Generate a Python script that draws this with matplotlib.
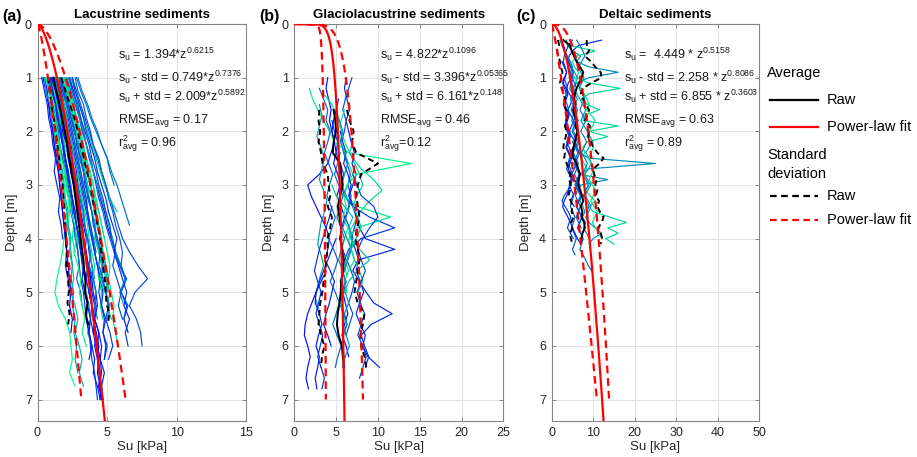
import numpy as np
import matplotlib
matplotlib.use('Agg')
import matplotlib.pyplot as plt
from matplotlib.lines import Line2D

plt.rcParams['font.family'] = ['Liberation Sans', 'DejaVu Sans']
plt.rcParams['mathtext.fontset'] = 'custom'
plt.rcParams['mathtext.rm'] = 'Liberation Sans'
plt.rcParams['mathtext.it'] = 'Liberation Sans'
plt.rcParams['mathtext.bf'] = 'Liberation Sans:bold'

# ---------------- data ----------------
panel_titles = ['Lacustrine sediments', 'Glaciolacustrine sediments', 'Deltaic sediments']
panel_labels = ['(a)', '(b)', '(c)']
x_limits = [15, 25, 50]
x_ticks = [[0, 5, 10, 15], [0, 5, 10, 15, 20, 25], [0, 10, 20, 30, 40, 50]]
depth_ticks = [0, 1, 2, 3, 4, 5, 6, 7]
depth_max = 7.4
std_fit_depth = 7.0

fit_coef = [1.394, 4.822, 4.449]
fit_exp = [0.6215, 0.1096, 0.5158]
lo_coef = [0.749, 3.396, 2.258]
lo_exp = [0.7376, 0.05365, 0.8086]
hi_coef = [2.009, 6.161, 6.855]
hi_exp = [0.5892, 0.148, 0.3603]

eq_texts = [
    [r'$s_u$ = 1.394*z$^{0.6215}$', r'$s_u$ - std = 0.749*z$^{0.7376}$',
     r'$s_u$ + std = 2.009*z$^{0.5892}$', r'RMSE$_{avg}$ = 0.17', r'r$^2_{avg}$ = 0.96'],
    [r'$s_u$ = 4.822*z$^{0.1096}$', r'$s_u$ - std = 3.396*z$^{0.05365}$',
     r'$s_u$ + std = 6.161*z$^{0.148}$', r'RMSE$_{avg}$ = 0.46', r'r$^2_{avg}$=0.12'],
    [r'$s_u$ =  4.449 * z$^{0.5158}$', r'$s_u$ - std = 2.258 * z$^{0.8086}$',
     r'$s_u$ + std = 6.855 * z$^{0.3603}$', r'RMSE$_{avg}$ = 0.63', r'r$^2_{avg}$ = 0.89'],
]

# Panel (a): individual profiles, start depth 1.0 m, step 0.25 m
a_step = 0.25
a_traces = [
    [0.4,0.6,0.8,0.9,1.1,1.2,1.3,1.5,1.6,1.7,1.8,1.9,2.0,2.1,2.0,2.2,2.3],
    [0.7,0.9,1.0,1.2,1.3,1.5,1.6,1.8,1.9,2.0,2.2,2.1,2.3,2.4,2.5,2.4,2.6,2.5,2.7,2.6,2.8,2.7,2.9],
    [1.0,1.1,1.3,1.4,1.6,1.8,1.9,2.1,2.2,2.4,2.5,2.6,2.8,2.9,3.0,3.1,3.3,3.4,3.5,3.7,3.8,3.9,4.1,4.2,4.3],
    [1.3,1.5,1.7,1.9,2.0,2.2,2.4,2.5,2.7,2.9,3.0,3.2,3.3,3.5,3.6,3.8,3.7,3.9,4.0,4.2,4.1,4.3,4.4,4.6,4.5],
    [1.5,1.8,2.0,2.3,2.5,2.7,2.9,3.1,3.3,3.5,3.6,3.8,4.0,4.1,4.3,4.4,4.6,4.5,4.7],
    [2.0,2.3,2.6,2.8,3.1,3.3,3.5,3.8,4.0,4.2,4.4,4.6,4.8,5.0,5.2,5.1,5.3,5.5,5.4,5.6,5.8],
    [2.5,2.8,3.1,3.4,3.7,4.0,4.3,4.6,4.9,5.2,5.5,5.8,6.1,6.6,7.2,7.9,7.0,6.6,7.1,7.4,7.5],
    [0.9,1.1,1.2,1.4,1.5,1.6,1.8,1.9,2.0,2.2,2.3,2.2,2.4],
    [1.2,1.4,1.6,1.8,2.0,2.1,2.3,2.5,2.6,2.8,3.0,3.1,3.3,3.4,3.6,3.5,3.7,3.9,3.8,4.0],
    [1.8,2.0,2.3,2.5,2.7,2.9,3.1,3.3,3.5,3.7,3.9,4.1,4.3,4.6,4.8,5.0,4.9,5.2,5.0],
    [2.3,2.6,2.8,3.1,3.3,3.5,3.8,4.0,4.3,4.5,4.8,5.0,5.3,5.6,5.9,6.3,6.0,6.4,6.2,6.5],
    [1.1,1.3,1.4,1.6,1.7,1.9,2.0,2.2,2.3,2.5,2.6,2.8,2.9,3.1,3.2,3.4],
    [0.6,0.8,1.0,1.2,1.4,1.6,1.8,2.0,2.1,2.3,2.4,2.6,2.5,2.7],
    [1.4,1.7,1.9,2.1,2.3,2.5,2.7,2.9,3.1,3.3,3.5,3.7,3.9,4.1,4.3,4.5,4.7,4.6,4.9,4.7,5.0,4.8],
    [1.7,2.0,2.2,2.5,2.7,3.0,3.2,3.4,3.6,3.9,4.1,4.3,4.5,4.7,4.9],
    [2.1,2.4,2.7,3.0,3.2,3.5,3.7,4.0,4.2,4.4,4.7,4.9,5.2,5.5,5.9,6.4,6.0,6.5,6.2],
    [0.8,1.0,1.1,1.3,1.4,1.5,1.6,1.7,1.9,2.0,2.1,2.0,1.9,1.8,1.6,1.4,1.25,1.5,2.0,2.3,2.4,2.5,2.3,2.7],
    [1.3,1.6,1.8,2.0,2.2,2.4,2.6,2.8,2.9,3.1,3.3,3.4,3.6,3.7,3.9,4.0,4.2,4.3,4.1,4.4,4.6,4.5,4.8,4.6,4.7],
    [2.8,3.1,3.5,3.8,4.2,4.6,5.0,5.3,5.7,6.0,6.3,6.6],
    [2.4,2.7,3.0,3.3,3.6,3.9,4.2,4.5,4.8,5.2,5.7],
    [0.5,0.7,0.8,1.0,1.1,1.2,1.4,1.5,1.6,1.7,1.8,1.9,2.0,2.1,2.2,2.3,2.4,2.3,2.5,2.4],
    [1.0,1.2,1.4,1.5,1.7,1.9,2.0,2.2,2.4,2.5,2.7,2.8,3.0,3.1,3.3,3.4,3.5,3.7,3.8,3.6,3.9],
    [1.9,2.1,2.4,2.6,2.9,3.1,3.3,3.5,3.8,4.0,4.2,4.4,4.6,4.4,4.7,4.9,5.2,5.0,5.3],
    [1.6,1.8,2.1,2.3,2.5,2.7,2.9,3.1,3.3,3.5,3.6,3.8,4.0,4.2],
    [1.2,1.5,1.7,1.9,2.1,2.2,2.4,2.6,2.7,2.9,3.0,3.2,3.3,3.5,3.6,3.8,3.9,4.1,4.0,4.2,4.4,4.3,4.5,4.4,4.6],
    [2.2,2.5,2.8,3.0,3.3,3.5,3.8,4.0,4.3,4.6,4.9,5.1,5.4,5.6,6.0,6.3,5.9,6.2],
    [0.9,1.2,1.4,1.6,1.8,2.0,2.2,2.4,2.6,2.7,2.9,3.1,3.2,3.4,3.5,3.7],
    [1.5,1.7,1.9,2.2,2.4,2.6,2.8,3.0,3.2,3.4,3.6,3.7,3.9,4.1,4.3,4.5,4.4,4.6,4.8,4.7,4.9,4.8],
    [0.7,0.9,1.1,1.3,1.5,1.6,1.8,2.0,2.1,2.3,2.4,2.6,2.7,2.9,3.0,2.8,3.1,3.2],
    [2.0,2.3,2.5,2.8,3.0,3.2,3.4,3.6,3.8,4.0,4.2,4.4,4.5,4.7,4.9,5.1,5.0],
    [0.3,0.5,0.7,0.8,1.0,1.1,1.3,1.2,1.4,1.6,1.5,1.7,1.8],
    [1.9,2.2,2.3,2.6,2.8,2.9,3.2,3.3,3.6,3.7,3.9,4.2,4.1,4.4,4.6,4.5,4.8],
    [2.7,2.9,3.3,3.5,3.8,4.0,4.4,4.6,4.9,5.1,5.4,5.6,5.9,6.1,6.0,6.3],
    [1.1,1.4,1.5,1.8,1.9,2.2,2.3,2.6,2.7,3.0,3.1,3.3,3.5,3.4,3.7,3.9,4.0,4.2,4.1,4.4,4.3,4.5,4.6,4.4,4.7],
    [0.6,0.9,1.0,1.3,1.4,1.6,1.7,2.0,2.1,2.3,2.4,2.7,2.8,2.6,2.9,3.1,3.0,3.2,3.4,3.2,3.5],
    [1.7,1.9,2.2,2.4,2.7,2.8,3.1,3.3,3.4,3.7,3.9,4.0,4.3,4.5,4.4,4.7,4.9,5.1,4.9,5.2,5.4,5.1],
    [1.3,1.4,1.7,1.8,2.1,2.3,2.4,2.7,2.8,3.1,3.2,3.4,3.6,3.8,3.9,4.1],
    [2.9,3.2,3.6,3.9,4.3,4.6,5.0,5.2,5.5],
    [0.8,1.0,1.3,1.4,1.7,1.8,2.0,2.2,2.3,2.5,2.7,2.8,3.0,3.1,3.3,3.2,3.4,3.6,3.5,3.7,3.9,3.7],
    [2.3,2.5,2.9,3.1,3.4,3.7,3.9,4.2,4.4,4.7,4.9,5.2,5.3,5.6,5.4,5.7,6.0,5.8,6.1],
    [1.0,1.3,1.5,1.7,1.8,2.1,2.2,2.4,2.6,2.8,2.9,3.1,3.3,3.4,3.6,3.8,3.7,3.9,4.1,4.0,4.2,4.4,4.3,4.5,4.6],
    [1.5,1.6,1.9,2.1,2.2,2.5,2.6,2.9,3.0,3.2,3.4,3.6,3.7,3.9,4.1,4.0,4.2],
    [2.5,2.7,3.0,3.3,3.5,3.8,4.1,4.3,4.6,4.9,5.1,5.4,5.7,5.5,5.8,6.1,6.4,6.2,6.6,6.3,6.5],
    [0.5,0.6,0.9,1.0,1.2,1.3,1.5,1.6,1.8,1.9,2.1,2.2,2.4,2.3,2.5,2.6,2.4,2.7,2.9,2.7,3.0,3.2,3.0,3.3],
    [1.2,1.5,1.6,1.9,2.1,2.2,2.5,2.6,2.9,3.0,3.3,3.4,3.6,3.8,3.7,4.0,4.2,4.1,4.3],
    [2.0,2.2,2.5,2.7,3.0,3.2,3.5,3.7,4.0,4.1,4.4,4.6,4.8],
    [0.9,1.1,1.3,1.5,1.6,1.8,2.0,2.1,2.3,2.5,2.6,2.8,3.0,3.1,3.3,3.5,3.4,3.6,3.8,3.7,3.9,4.1,4.0,4.3,4.5],
    [1.6,1.9,2.1,2.4,2.6,2.9,3.0,3.3,3.5,3.6,3.9,4.1,4.2,4.5,4.7,4.6,4.9,5.1],
]
a_starts = [1.0] * len(a_traces)
# Panel (a): averaged raw profiles, depths 1.0-5.6 m, step 0.2 m
a_raw_start, a_raw_step = 1.0, 0.2
a_mean = [1.15,1.3,1.5,1.65,1.8,1.95,2.1,2.2,2.35,2.45,2.6,2.7,2.8,2.9,3.0,3.1,3.2,3.3,3.35,3.45,3.4,3.6,3.45,3.65]
a_lower = [0.75,0.85,0.95,1.05,1.2,1.3,1.4,1.5,1.6,1.7,1.8,1.85,1.9,1.95,2.0,2.05,2.1,2.1,2.15,2.2,2.25,2.15,2.3,2.2]
a_upper = [1.7,1.95,2.2,2.45,2.7,2.9,3.05,3.25,3.4,3.6,3.8,3.9,4.05,4.2,4.35,4.5,4.55,4.7,4.75,4.85,4.9,4.95,5.15,5.05]

# Panel (b): individual profiles, step 0.2 m
b_step = 0.2
b_starts = [1.0, 1.0, 1.0, 1.2, 1.3, 1.4, 1.8, 1.5, 1.6, 2.0, 4.6, 1.6, 2.2, 2.8, 4.0, 2.4, 3.0, 1.2, 3.4]
b_traces = [
    [4.0,3.8,4.1,4.4,4.2,4.5,4.8,5.0,4.7,5.2,5.5,5.1,5.6,6.0,5.7,5.4,5.8,6.2,5.9,5.5,5.8,6.1,6.4,6.0,5.7,6.2,6.5],
    [6.2,6.0,6.3,6.6,6.2,6.5,6.8,7.2,6.9,7.4,7.0,6.6,7.1,7.5,7.2,6.8,7.3,7.7,7.4,7.9,8.3,7.8,7.4,7.9,8.5,8.2,8.8,10.2],
    [6.9,6.5,6.1,5.8,6.2,6.0,5.6,5.9,6.3,6.7,6.4,6.8,6.5,6.1,6.6,7.0,6.7,6.3,6.8,7.2,6.9,6.5,7.0,6.6,6.2],
    [1.8,2.2,2.8,3.5,4.2,4.8,6.5,14.0,7.5,6.3,5.9,6.2,5.8,6.4,6.0,5.7,6.1,6.5],
    [3.5,4.5,5.0,5.5,5.8,6.3,7.0,8.0,9.5,10.5,9.0,7.9,7.2,6.5,7.0,6.6,6.0,6.3],
    [5.3,5.0,4.7,4.5,4.8,4.4,4.0,3.0,1.6,2.0,2.6,3.2,3.8,4.2,4.0,3.7,4.3,4.8,4.5,4.2,3.8,3.5,4.0,4.4],
    [4.5,4.8,5.2,5.0,5.5,5.9,5.6,6.0,7.0,9.0,12.0,8.0,6.5,6.0,5.7,6.2,5.9,5.5,6.0,6.3,5.8],
    [3.0,3.3,3.0,2.7,3.2,3.6,3.3,3.0,3.5,3.9,3.6,3.2,3.0,2.8,3.2,3.5,3.1,2.8,2.5,2.9],
    [6.0,5.6,5.2,5.6,6.0,6.5,7.0,6.4,5.9,7.5,11.5,7.5,6.5,6.8,7.2,6.5,6.0,6.3],
    [5.5,5.8,6.2,5.9,6.4,6.8,6.5,7.0,7.4,7.8,8.5,12.0,7.6,7.0,7.8,8.6,9.5,11.7,9.2,8.0,8.4,8.9,8.5],
    [3.8,3.2,2.6,2.1,1.6,1.3,1.2,1.6,1.9,1.6,1.4,1.7],
    [5.0,5.4,5.8,5.5,6.0,6.4,6.0,5.7,6.2,6.6,6.2,5.8,6.3,6.8,6.4,6.0,5.6,6.1,6.5,6.0,5.8,6.2,6.6,6.1,5.8],
    [7.0,6.6,7.2,7.8,8.2,7.5,7.0,7.6,8.0,7.4,6.8,7.2,7.8,8.2,7.6],
    [7.0,7.5,8.0,9.5,10.0,9.0,8.2,7.6,8.0,8.5,8.0,7.5,7.9,8.4,8.0,7.6,8.2,8.6,8.2,7.8],
    [5.0,4.5,4.0,3.5,3.0,2.6,2.5,3.0,3.3,2.9,2.6,3.0,2.8,2.5,2.7],
    [5.5,5.2,4.8,5.3,5.8,5.5,5.1,5.6,6.0,5.6,5.3,5.8,6.1,5.7,5.4,5.9,6.3,5.9,5.6,6.0,5.8],
    [4.5,5.0,6.0,7.0,6.5,6.8,7.8,9.0,7.5,6.5,6.0,5.5,5.8,6.2],
    [3.0,3.5,4.0,3.8,4.3,4.0,3.6,4.1,4.6,4.2,3.9,4.4,4.9,4.5,4.1,4.7,5.2,4.8,4.3,4.9,5.4,5.0,4.6,5.1,5.6,5.2,4.9],
    [4.5,4.2,3.8,3.4,3.0,2.7,2.4,2.8,3.2,2.9,2.6,3.0,3.4,3.1,2.8,3.2,3.6,3.3],
]
b_raw_start, b_raw_step = 1.6, 0.2
b_mean = [4.7,4.9,5.0,4.7,4.6,5.5,5.6,5.8,5.5,5.2,5.4,5.6,5.55,5.7,5.9,5.8,5.6,5.55,5.4,5.2,5.1,5.3,5.7,5.8,5.95]
b_lower = [3.0,2.9,3.1,2.9,3.2,3.4,4.0,4.1,4.3,4.0,4.5,4.3,3.95,4.0,3.8,3.75,3.5,3.35,3.1,3.0,2.9,3.2,3.6,3.3,3.2]
b_upper = [6.3,6.6,7.1,6.9,7.4,10.0,8.0,7.6,7.4,7.6,7.8,7.5,7.3,7.6,7.8,7.6,7.4,7.2,7.6,8.4,8.2,7.9,8.0,8.4,8.6]

# Panel (c): individual profiles, step 0.1 m
c_step = 0.1
c_starts = [0.3, 0.3, 0.4, 0.3, 0.3, 0.5, 0.8, 1.0, 0.3, 0.7, 0.4, 0.6]
c_traces = [
    [12.0,6.5,5.0,4.2,3.8,4.5,5.2,4.8,4.0,3.6,4.2,5.0,4.5,3.9,4.6,5.3,4.8,4.2,4.9,5.6,5.1,4.6,5.3,5.9,5.4,4.8,5.5,6.2,5.7,5.1,4.6,5.4],
    [3.5,3.8,5.0,7.0,6.0,9.0,16.0,9.0,6.0,5.0,5.5,6.2,5.6,5.0,5.8,6.4,5.7,5.2,5.9,6.6,6.0,6.5,9.0,25.0,9.0,6.5,13.5,7.0,6.5,7.2,6.8,7.5,8.0,7.4,8.2,7.6,8.4,9.0],
    [4.0,10.5,6.0,5.0,5.5,6.5,6.0,9.0,16.5,9.0,7.0,8.5,11.5,8.0,7.5,16.0,9.0,13.5,8.5,7.5,8.0,7.2,7.8,8.5,7.8,8.6,9.0,8.2,9.2,10.5,9.0,10.0,14.0,18.0,13.5,16.0,13.0,15.0],
    [5.0,4.0,3.5,3.0,2.8,3.2,3.6,3.0,2.6,3.1,3.5,3.2,2.8,3.4,3.9,3.5,3.1,3.7,4.2,3.8,3.4,4.0,4.5,4.1,3.6,4.2,4.8,4.4,3.9,3.0,2.5,3.2,4.0,4.6,4.2,3.8,4.5,5.2],
    [2.0,2.5,3.2,3.8,4.5,5.0,4.6,4.2,4.8,5.4,5.0,4.5,5.1,5.7,5.2,4.8,5.5,6.1,5.6,5.0,5.7,6.3,5.8,5.3,6.0,6.6,6.1,5.6,6.3,6.9,6.4,5.9,6.6,7.2,6.7,6.2,7.0,7.6,7.2,6.8,7.5,8.2,8.8,9.6],
    [3.0,3.5,4.2,4.8,5.5,6.2,5.8,5.2,6.0,6.8,7.5,8.2,7.6,7.0,7.8,8.6,9.2,10.0,9.0,8.2,9.0,9.6,8.8,8.0,8.6,9.4,8.7,8.0,8.8,9.5,8.9,8.2,9.0,10.5,12.0,10.0,9.0],
    [4.0,4.8,5.5,6.2,7.0,7.8,8.5,9.0,8.4,9.5,10.5,9.8,9.0,8.5,9.2,10.0,9.5,8.8,9.4,10.2,9.6,9.0,9.8,10.6,10.0,9.4,10.2,11.0,10.4,9.8,10.5,11.5,12.0],
    [3.0,3.4,3.8,3.5,3.2,3.7,4.1,3.8,3.4,3.9,4.4,4.0,3.6,4.2,4.7,4.3,3.9,4.5,5.0,4.6,4.2,4.8,5.3,4.9,4.5,5.1,5.6,5.2,4.8,5.4,5.9,5.5,5.0,5.6],
    [6.0,6.8,7.5,8.0,7.2,6.5,7.0,7.8,7.2,6.6,7.4,8.0,7.3,6.8,7.5,8.2,7.6,7.0,7.8,8.4,7.8,7.2,8.0,8.6,8.0,7.4,8.2,8.8,8.2,7.6,8.4,9.0,8.4],
    [2.5,3.0,3.6,3.2,2.8,3.4,3.9,3.5,3.1,3.7,4.2,3.8,3.4,4.0,4.5,4.0,3.6,4.2,4.8,4.4,4.0,4.6,5.0,4.5,4.1,3.6,3.0,2.6,3.2,3.9,4.5,5.0,5.6,6.2,7.0],
    [2.5,3.0,3.6,4.2,3.8,4.5,5.2,4.8,4.3,5.0,5.6,5.2,4.7,5.3,5.9,5.4,4.9,5.6,6.2,5.7,5.2,5.8,6.4,6.0,5.5,6.1,6.7,6.2,5.7,6.3,6.9,6.4,5.9,6.5,7.1],
    [3.5,4.0,4.6,5.2,4.8,5.5,6.0,5.4,5.0,5.6,6.2,5.8,5.3,5.9,6.5,6.0,5.4,6.1,6.7,6.2,5.6,6.3,6.9,6.4,5.8,6.5,7.1,6.6,6.0,6.7,7.3,6.8,6.2,6.9],
]
c_raw_start, c_raw_step = 0.3, 0.1
c_mean = [2.8,4.4,4.8,5.4,6.0,6.8,7.6,7.2,6.6,6.0,5.6,5.4,5.8,5.2,5.5,6.0,5.8,6.2,5.9,5.6,5.3,5.0,5.2,6.0,6.4,6.8,6.5,6.4,6.9,7.3,7.6,7.0,7.4,7.2,7.8,8.0,7.4,7.2,7.0]
c_lower = [1.5,1.8,1.3,1.6,2.0,2.2,2.6,2.3,2.0,2.4,2.8,3.2,3.0,3.4,3.8,3.5,3.2,3.6,3.4,3.0,2.8,3.2,3.0,3.6,4.0,4.5,4.2,4.6,4.4,4.0,4.6,5.0,4.8,5.2,4.7,5.0,4.4,4.6,5.0]
c_upper = [8.4,8.5,9.0,8.0,9.5,10.5,11.8,12.0,9.5,7.5,7.0,7.6,8.2,9.0,8.6,8.0,9.2,9.0,8.8,9.5,10.0,11.0,12.5,11.5,10.0,10.2,10.8,10.5,11.0,10.6,11.4,11.0,11.6,12.5,12.0,11.2,11.8,12.2,11.8]

# ---------------- styles ----------------
trace_colour_pos = [
    [0.0,0.6,0.25,0.1,0.85,0.9,0.3,0.95,0.15,0.7,0.05,0.5,0.9,0.2,0.65,0.35,1.0,0.1,0.45,0.8,0.0,0.55,0.75,0.3,0.05,0.6,0.9,0.2,0.4,0.7,
     0.15,0.8,0.35,0.05,0.95,0.25,0.65,0.45,0.1,0.3,0.0,0.85,0.2,0.7,0.5,0.9,0.12,0.4],
    [0.05,0.15,0.3,0.95,0.85,0.1,0.2,0.6,0.9,0.15,0.05,0.55,0.8,0.25,0.1,0.5,0.75,0.4,0.2],
    [0.15,0.55,0.85,0.25,0.45,0.6,0.9,0.35,0.5,0.1,0.4,0.3],
]
cmap = plt.get_cmap('winter')
RED = '#ff0000'

fig = plt.figure(figsize=(9.17, 4.57), dpi=100)
W, H = 917.0, 457.0
ax_lefts = [37.5, 294.3, 551.7]
ax_widths = [209.0, 209.0, 207.6]
ax_top, ax_bot = 24.0, 421.0
text_x = [118, 380, 624]
text_baselines = [59, 82, 101, 123, 146]

all_traces = [(a_starts, a_traces, a_step), (b_starts, b_traces, b_step), (c_starts, c_traces, c_step)]
all_raw = [(a_raw_start, a_raw_step, a_mean, a_lower, a_upper),
           (b_raw_start, b_raw_step, b_mean, b_lower, b_upper),
           (c_raw_start, c_raw_step, c_mean, c_lower, c_upper)]

for i in range(3):
    ax = fig.add_axes([ax_lefts[i] / W, 1 - ax_bot / H, ax_widths[i] / W, (ax_bot - ax_top) / H])
    starts, traces, step = all_traces[i]
    for k, (s0, vals) in enumerate(zip(starts, traces)):
        d = s0 + step * np.arange(len(vals))
        ax.plot(vals, d, color=cmap(trace_colour_pos[i][k % len(trace_colour_pos[i])]), lw=0.85, zorder=2)
    r0, rs, mean, lower, upper = all_raw[i]
    dr = r0 + rs * np.arange(len(mean))
    ax.plot(mean, dr, color='k', lw=1.4, zorder=3)
    ax.plot(lower, dr, color='k', lw=1.4, ls=(0, (3, 2)), zorder=3)
    ax.plot(upper, dr, color='k', lw=1.4, ls=(0, (3, 2)), zorder=3)

    z_full = np.linspace(0, depth_max, 741)
    z_std = np.linspace(0, std_fit_depth, 701)
    ax.plot(fit_coef[i] * z_full ** fit_exp[i], z_full, color=RED, lw=1.6, zorder=4)
    ax.plot(lo_coef[i] * z_std ** lo_exp[i], z_std, color=RED, lw=1.6, ls=(0, (3.5, 2.2)), zorder=4)
    ax.plot(hi_coef[i] * z_std ** hi_exp[i], z_std, color=RED, lw=1.6, ls=(0, (3.5, 2.2)), zorder=4)

    ax.set_xlim(0, x_limits[i])
    ax.set_ylim(depth_max, 0)
    ax.set_xticks(x_ticks[i])
    ax.set_yticks(depth_ticks)
    ax.grid(True, color='#e3e3e3', lw=0.7)
    ax.set_axisbelow(True)
    for sp in ax.spines.values():
        sp.set_color('#858585')
        sp.set_linewidth(0.8)
    ax.tick_params(direction='in', length=3, width=0.7, color='#858585', labelsize=9,
                   labelcolor='#262626', top=True, right=True, pad=4)
    ax.set_xlabel('Su [kPa]', fontsize=9.5, color='#262626', labelpad=2)
    ax.set_ylabel('Depth [m]', fontsize=9.5, color='#262626', labelpad=5)
    ax.set_title(panel_titles[i], fontsize=9.5, fontweight='bold', pad=4)
    fig.text((ax_lefts[i] - 35) / W, 1 - 16 / H, panel_labels[i], fontsize=11.5,
             fontweight='bold', va='center', ha='left')
    for t, yb in zip(eq_texts[i], text_baselines):
        ax.text((text_x[i] - ax_lefts[i]) / ax_widths[i], 1 - (yb - ax_top) / (ax_bot - ax_top), t,
                transform=ax.transAxes, fontsize=9, va='baseline', ha='left', color='#1a1a1a', zorder=6)

# ---------------- legend ----------------
def fx(px):
    return px / W

def fy(py):
    return 1 - py / H

leg_fs = 10.5
fig.text(fx(767), fy(73), 'Average', fontsize=leg_fs, va='center', ha='left')
fig.add_artist(Line2D([fx(770), fx(818)], [fy(100), fy(100)], color='k', lw=1.6))
fig.text(fx(827), fy(100), 'Raw', fontsize=leg_fs, va='center', ha='left')
fig.add_artist(Line2D([fx(770), fx(818)], [fy(127), fy(127)], color=RED, lw=1.6))
fig.text(fx(827), fy(127), 'Power-law fit', fontsize=leg_fs, va='center', ha='left')
fig.text(fx(767), fy(155), 'Standard', fontsize=leg_fs, va='center', ha='left')
fig.text(fx(767), fy(174), 'deviation', fontsize=leg_fs, va='center', ha='left')
fig.add_artist(Line2D([fx(770), fx(818)], [fy(196), fy(196)], color='k', lw=1.6, ls=(0, (3, 2))))
fig.text(fx(827), fy(196), 'Raw', fontsize=leg_fs, va='center', ha='left')
fig.add_artist(Line2D([fx(770), fx(818)], [fy(220), fy(220)], color=RED, lw=1.6, ls=(0, (3, 2))))
fig.text(fx(827), fy(220), 'Power-law fit', fontsize=leg_fs, va='center', ha='left')

fig.savefig('out.png', dpi=100, facecolor='white')
